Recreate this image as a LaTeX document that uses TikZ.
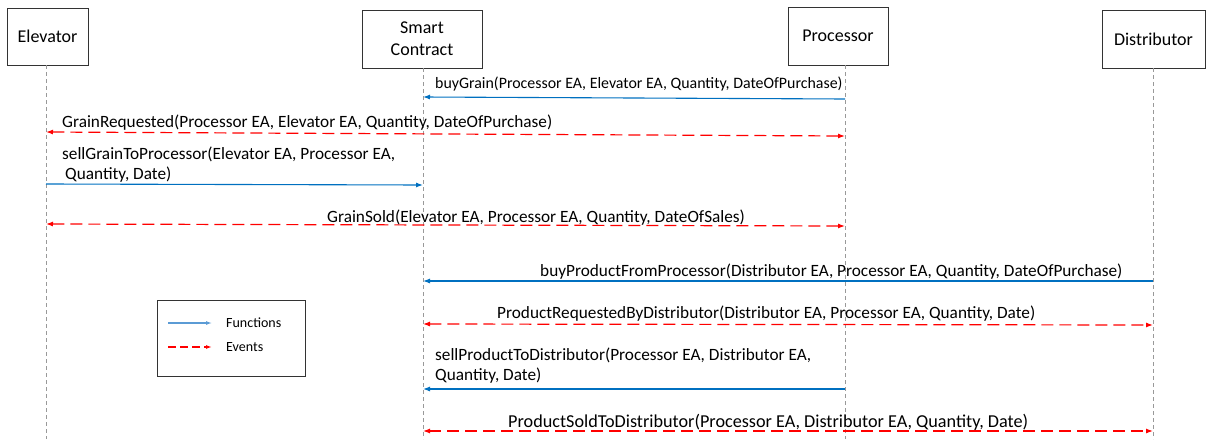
\documentclass[tikz,border=0pt]{standalone}
\usepackage{fontspec}
\setmainfont{Carlito}
\usetikzlibrary{arrows.meta}
\definecolor{fblue}{RGB}{0,112,192}
\definecolor{lblue}{RGB}{91,155,213}
\definecolor{ered}{RGB}{255,0,0}
\tikzset{
  actor/.style={draw=black!80, line width=1pt, align=center, font=\fontsize{18}{22}\selectfont, inner sep=0pt},
  life/.style={color=black!40, dash pattern=on 4pt off 3pt, line width=0.6pt},
  func/.style={color=fblue, line width=1.1pt, -{Latex[length=7pt,width=5pt]}},
  evt/.style={color=ered, line width=1.2pt, dash pattern=on 12pt off 6pt, {Latex[length=7pt,width=5pt]}-{Latex[length=7pt,width=5pt]}},
  lbl/.style={font=\fontsize{17.25}{20}\selectfont, inner sep=0pt, align=left},
  lgt/.style={font=\fontsize{14}{16}\selectfont, anchor=west, inner sep=0pt},
}
\begin{document}
\begin{tikzpicture}[x=1pt,y=-1pt]
\useasboundingbox (0,0) rectangle (1207,439);
% actors
\node[actor, minimum width=81pt, minimum height=57pt] (el) at (47.5,36.5) {Elevator};
\node[actor, minimum width=120pt, minimum height=58pt] (sc) at (422,39) {\rule{0pt}{12pt}Smart\\Contract};
\node[actor, minimum width=100pt, minimum height=58pt] (pr) at (838,36) {Processor};
\node[actor, minimum width=103pt, minimum height=58pt] (di) at (1153.5,39) {Distributor};
% lifelines
\coordinate (elb) at (46,439);
\coordinate (scb) at (423,439);
\coordinate (prb) at (845,439);
\coordinate (dib) at (1153,439);
\draw[life] (46,65) -- (elb);
\draw[life] (423,68) -- (scb);
\draw[life] (845,65) -- (prb);
\draw[life] (1153,68) -- (dib);
% message endpoints
\coordinate (m1a) at (845,99); \coordinate (m1b) at (423,97);
\coordinate (m2a) at (46,132); \coordinate (m2b) at (845,136);
\coordinate (m3a) at (46,184); \coordinate (m3b) at (423,185);
\coordinate (m4a) at (46,224); \coordinate (m4b) at (845,226);
\coordinate (m5a) at (1153,281); \coordinate (m5b) at (423,281);
\coordinate (m6a) at (423,324); \coordinate (m6b) at (1153,325);
\coordinate (m7a) at (845,389); \coordinate (m7b) at (423,389);
\coordinate (m8a) at (423,431); \coordinate (m8b) at (1153,431);
\draw[func] (m1a) -- (m1b);
\draw[evt] (m2a) -- (m2b);
\draw[func] (m3a) -- (m3b);
\draw[evt] (m4a) -- (m4b);
\draw[func] (m5a) -- (m5b);
\draw[evt] (m6a) -- (m6b);
\draw[func] (m7a) -- (m7b);
\draw[evt] (m8a) -- (m8b);
% labels
\node[lbl, font=\fontsize{15.9}{19}\selectfont, anchor=base west] (t1) at (435,88) {buyGrain(Processor EA, Elevator EA, Quantity, DateOfPurchase)};
\node[lbl, anchor=base west] (t2) at (62,127) {GrainRequested(Processor EA, Elevator EA, Quantity, DateOfPurchase)};
\node[lbl, anchor=base west] (t3) at (62,159) {sellGrainToProcessor(Elevator EA, Processor EA,};
\node[lbl, anchor=base west] (t3b) at (65,179) {Quantity, Date)};
\node[lbl, anchor=base west] (t4) at (327,222) {GrainSold(Elevator EA, Processor EA, Quantity, DateOfSales)};
\node[lbl, anchor=base west] (t5) at (540,276) {buyProductFromProcessor(Distributor EA, Processor EA, Quantity, DateOfPurchase)};
\node[lbl, anchor=base west] (t6) at (497,318) {ProductRequestedByDistributor(Distributor EA, Processor EA, Quantity, Date)};
\node[lbl, anchor=base west] (t7) at (435,360) {sellProductToDistributor(Processor EA, Distributor EA,};
\node[lbl, anchor=base west] (t7b) at (435,380) {Quantity, Date)};
\node[lbl, font=\fontsize{18.2}{21}\selectfont, anchor=base west] (t8) at (508,427) {ProductSoldToDistributor(Processor EA, Distributor EA, Quantity, Date)};
% legend
\node[draw=black!80, line width=1pt, minimum width=148pt, minimum height=76pt, inner sep=0pt] (lg) at (231,338) {};
\coordinate (lf1) at (168,323); \coordinate (lf2) at (212,323);
\coordinate (le1) at (168,347); \coordinate (le2) at (212,347);
\draw[color=lblue, line width=1.1pt, -{Latex[length=6pt,width=4pt]}] (lf1) -- (lf2);
\draw[color=ered, line width=1.2pt, dash pattern=on 8pt off 4pt, -{Latex[length=6pt,width=4pt]}] (le1) -- (le2);
\node[lgt] (lft) at (226,323) {Functions};
\node[lgt] (let) at (226,347) {Events};
\end{tikzpicture}
\end{document}
